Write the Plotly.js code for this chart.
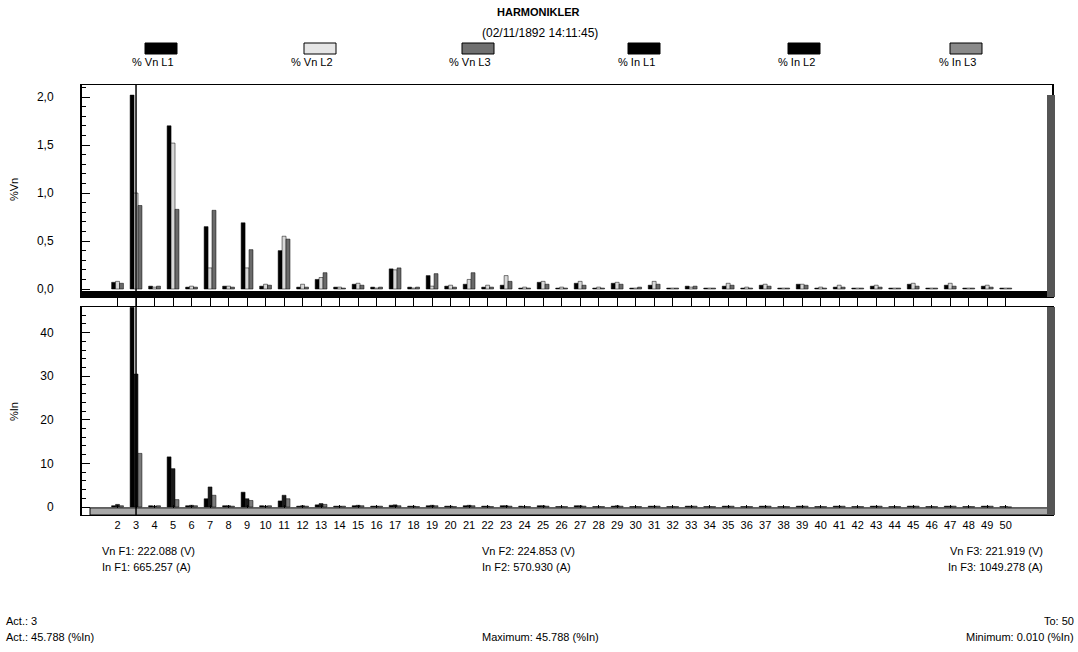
<!DOCTYPE html>
<html><head><meta charset="utf-8">
<script src="https://cdn.plot.ly/plotly-3.0.1.min.js"></script>
<style>html,body{margin:0;padding:0;background:#fff;}#chart{width:1078px;height:652px;}</style>
</head><body><div id="chart"></div>
<script>
// ---- data ----
const harmonics = [2,3,4,5,6,7,8,9,10,11,12,13,14,15,16,17,18,19,20,21,22,23,24,25,26,27,28,29,30,31,32,33,34,35,36,37,38,39,40,41,42,43,44,45,46,47,48,49,50];
const xTickLabels = harmonics.map(String);
const vnL1 = [0.07,2.02,0.03,1.70,0.02,0.65,0.03,0.69,0.03,0.40, 0.02,0.10,0.02,0.05,0.02,0.21,0.02,0.14,0.03,0.05, 0.02,0.04,0.01,0.07,0.01,0.06,0.01,0.06,0.01,0.04, 0.01,0.03,0.01,0.03,0.01,0.04,0.01,0.05,0.01,0.02, 0.01,0.03,0.01,0.05,0.01,0.04,0.01,0.03,0.01];
const vnL2 = [0.08,1.00,0.02,1.52,0.03,0.22,0.03,0.22,0.05,0.55, 0.05,0.12,0.02,0.06,0.01,0.20,0.01,0.03,0.04,0.10, 0.04,0.14,0.02,0.08,0.02,0.08,0.02,0.07,0.01,0.08, 0.01,0.02,0.01,0.06,0.02,0.05,0.01,0.05,0.02,0.04, 0.01,0.04,0.01,0.06,0.01,0.06,0.01,0.04,0.01];
const vnL3 = [0.06,0.87,0.03,0.83,0.02,0.82,0.02,0.41,0.04,0.52, 0.02,0.17,0.01,0.04,0.02,0.22,0.02,0.16,0.02,0.17, 0.02,0.08,0.01,0.05,0.01,0.04,0.01,0.05,0.02,0.05, 0.01,0.03,0.01,0.04,0.01,0.03,0.01,0.04,0.01,0.02, 0.01,0.02,0.01,0.03,0.01,0.03,0.01,0.02,0.01];
const inL1 = [0.3,45.79,0.3,11.5,0.3,1.9,0.3,3.4,0.3,1.4, 0.2,0.5,0.2,0.3,0.2,0.4,0.2,0.3,0.2,0.3, 0.2,0.3,0.2,0.3,0.1,0.3,0.1,0.2,0.1,0.2, 0.1,0.2,0.1,0.2,0.1,0.2,0.1,0.2,0.1,0.2, 0.1,0.2,0.1,0.2,0.1,0.2,0.1,0.2,0.1];
const inL2 = [0.6,30.5,0.2,8.8,0.4,4.6,0.3,1.9,0.2,2.7, 0.3,0.8,0.2,0.4,0.2,0.5,0.2,0.4,0.2,0.4, 0.2,0.3,0.1,0.3,0.1,0.3,0.1,0.3,0.1,0.2, 0.1,0.2,0.1,0.2,0.1,0.2,0.1,0.2,0.1,0.2, 0.1,0.2,0.1,0.2,0.1,0.2,0.1,0.2,0.1];
const inL3 = [0.3,12.3,0.3,1.7,0.3,2.7,0.2,1.5,0.3,1.9, 0.2,0.6,0.2,0.3,0.2,0.3,0.1,0.3,0.1,0.3, 0.1,0.2,0.1,0.2,0.1,0.2,0.1,0.2,0.1,0.2, 0.1,0.2,0.1,0.2,0.1,0.2,0.1,0.2,0.1,0.2, 0.1,0.2,0.1,0.2,0.1,0.2,0.1,0.2,0.01];
const seriesNames = ['% Vn L1','% Vn L2','% Vn L3','% In L1','% In L2','% In L3'];
const yTopTicks = [0,0.5,1,1.5,2];
const yTopTickText = ['0,0','0,5','1,0','1,5','2,0'];
const yBotTicks = [0,10,20,30,40];
const yBotTickText = ['0','10','20','30','40'];
const activeHarmonic = 3;
const titleText = 'HARMONIKLER';
const dateText = '(02/11/1892 14:11:45)';
const infoLeft = ['Vn F1: 222.088 (V)','In F1: 665.257 (A)'];
const infoMid = ['Vn F2: 224.853 (V)','In F2: 570.930 (A)'];
const infoRight = ['Vn F3: 221.919 (V)','In F3: 1049.278 (A)'];
const footLeft = ['Act.: 3','Act.: 45.788 (%In)'];
const footMid = 'Maximum: 45.788 (%In)';
const footRight = ['To: 50','Minimum: 0.010 (%In)'];

// ---- styles ----
const W = 1078, H = 652;
const px = v => v / W, py = v => 1 - v / H;
const FONT = 'Liberation Sans Narrow, Liberation Sans, Arial, sans-serif';
const colors = ['#000000','#d8d8d8','#6a6a6a','#000000','#1a1a1a','#7a7a7a'];

const traces = [
  {type:'bar', x:harmonics, y:vnL1, name:seriesNames[0], xaxis:'x', yaxis:'y', marker:{color:colors[0], line:{color:'#000', width:0.5}}},
  {type:'bar', x:harmonics, y:vnL2, name:seriesNames[1], xaxis:'x', yaxis:'y', marker:{color:colors[1], line:{color:'#000', width:0.5}}},
  {type:'bar', x:harmonics, y:vnL3, name:seriesNames[2], xaxis:'x', yaxis:'y', marker:{color:colors[2], line:{color:'#000', width:0.5}}},
  {type:'bar', x:harmonics, y:inL1, name:seriesNames[3], xaxis:'x2', yaxis:'y2', marker:{color:colors[3], line:{color:'#000', width:0.5}}},
  {type:'bar', x:harmonics, y:inL2, name:seriesNames[4], xaxis:'x2', yaxis:'y2', marker:{color:colors[4], line:{color:'#000', width:0.5}}},
  {type:'bar', x:harmonics, y:inL3, name:seriesNames[5], xaxis:'x2', yaxis:'y2', marker:{color:colors[5], line:{color:'#000', width:0.5}}}
];

const xDom = [px(82), px(1052)];
const xRange = [0.08, 52.5];

const shapes = [
  {type:'rect', xref:'paper', yref:'y', x0:xDom[0], x1:xDom[1], y0:-0.083, y1:-0.02, fillcolor:'#000', line:{width:0}},
  {type:'rect', xref:'paper', yref:'y2', x0:px(90), x1:px(1048), y0:-1.83, y1:-0.2, fillcolor:'#a8a8a8', line:{color:'#000', width:1}},
  {type:'rect', xref:'paper', yref:'paper', x0:px(1047), x1:px(1055), y0:py(297), y1:py(95), fillcolor:'#555', line:{width:0}},
  {type:'rect', xref:'paper', yref:'paper', x0:px(1047), x1:px(1055), y0:py(515), y1:py(307), fillcolor:'#555', line:{width:0}},
  {type:'line', xref:'x', yref:'paper', x0:activeHarmonic, x1:activeHarmonic, y0:py(515), y1:py(85), line:{color:'#000', width:1.5}}
];

function ann(text, x, y, xanchor, extra){
  return Object.assign({text:text, x:px(x), y:py(y), xref:'paper', yref:'paper', xanchor:xanchor, yanchor:'middle', showarrow:false, font:{family:FONT, size:11, color:'#000'}}, extra || {});
}

const annotations = [
  ann('<b>'+titleText+'</b>', 538, 12, 'center'),
  ann(dateText, 540, 33, 'center', {font:{family:FONT, size:12, color:'#000'}}),
  ann('%Vn', 14, 190, 'center', {textangle:-90}),
  ann('%In', 14, 412, 'center', {textangle:-90})
];

const legendCenters = [161, 320, 478, 644, 804, 966];
const swatchFill = ['#000','#e6e6e6','#707070','#000','#000','#8a8a8a'];
seriesNames.forEach((n, i) => {
  const c = legendCenters[i];
  shapes.push({type:'rect', xref:'paper', yref:'paper', x0:px(c-16), x1:px(c+16), y0:py(54), y1:py(43), fillcolor:swatchFill[i], line:{color:'#000', width:1}});
  annotations.push(ann(n, c-8, 62, 'center'));
});

function infoAnn(lines, x, y, anchor, step){
  lines.forEach((t, i) => annotations.push(ann(t, x, y + i*step, anchor)));
}
infoAnn(infoLeft, 100, 551, 'left', 16);
infoAnn(infoMid, 480, 551, 'left', 16);
infoAnn(infoRight, 1045, 551, 'right', 16);
infoAnn(footLeft, 4, 621, 'left', 16);
infoAnn([footMid], 540, 637, 'center', 16);
infoAnn(footRight, 1076, 621, 'right', 16);

const layout = {
  width: W, height: H,
  margin: {l:0, r:0, t:0, b:0},
  paper_bgcolor:'#fff', plot_bgcolor:'#fff',
  showlegend:false,
  barmode:'group', bargap:0.36, bargroupgap:0,
  font:{family:FONT, size:11, color:'#000'},
  xaxis:{domain:xDom, anchor:'y', range:xRange, tickvals:harmonics, showticklabels:false,
    ticks:'outside', ticklen:8, tickcolor:'#000', tickwidth:1,
    showline:true, linecolor:'#000', linewidth:1, mirror:true, showgrid:false, zeroline:false},
  yaxis:{domain:[py(297), py(85)], anchor:'x', range:[-0.083, 2.125],
    tickvals:yTopTicks, ticktext:yTopTickText, ticks:'inside', ticklen:8, tickcolor:'#000',
    minor:{dtick:0.1, tick0:0, ticks:'inside', ticklen:4, tickcolor:'#000', showgrid:false},
    ticklabelstandoff:24, tickfont:{family:FONT, size:12, color:'#000'},
    showline:true, linecolor:'#000', linewidth:2, mirror:true, showgrid:false, zeroline:false},
  xaxis2:{domain:xDom, anchor:'y2', range:xRange, tickvals:harmonics, ticktext:xTickLabels,
    ticks:'inside', ticklen:10, tickcolor:'#000', tickwidth:1, tickangle:0,
    tickfont:{family:FONT, size:11, color:'#000'},
    showline:true, linecolor:'#000', linewidth:1, mirror:true, showgrid:false, zeroline:false},
  yaxis2:{domain:[py(515), py(307)], anchor:'x2', range:[-1.83, 45.87],
    tickvals:yBotTicks, ticktext:yBotTickText, ticks:'inside', ticklen:8, tickcolor:'#000',
    minor:{dtick:2, tick0:0, ticks:'inside', ticklen:4, tickcolor:'#000', showgrid:false},
    ticklabelstandoff:24, tickfont:{family:FONT, size:12, color:'#000'},
    showline:true, linecolor:'#000', linewidth:2, mirror:true, showgrid:false, zeroline:false},
  shapes: shapes,
  annotations: annotations
};

Plotly.newPlot('chart', traces, layout, {staticPlot:true, displayModeBar:false});
</script>
</body></html>
